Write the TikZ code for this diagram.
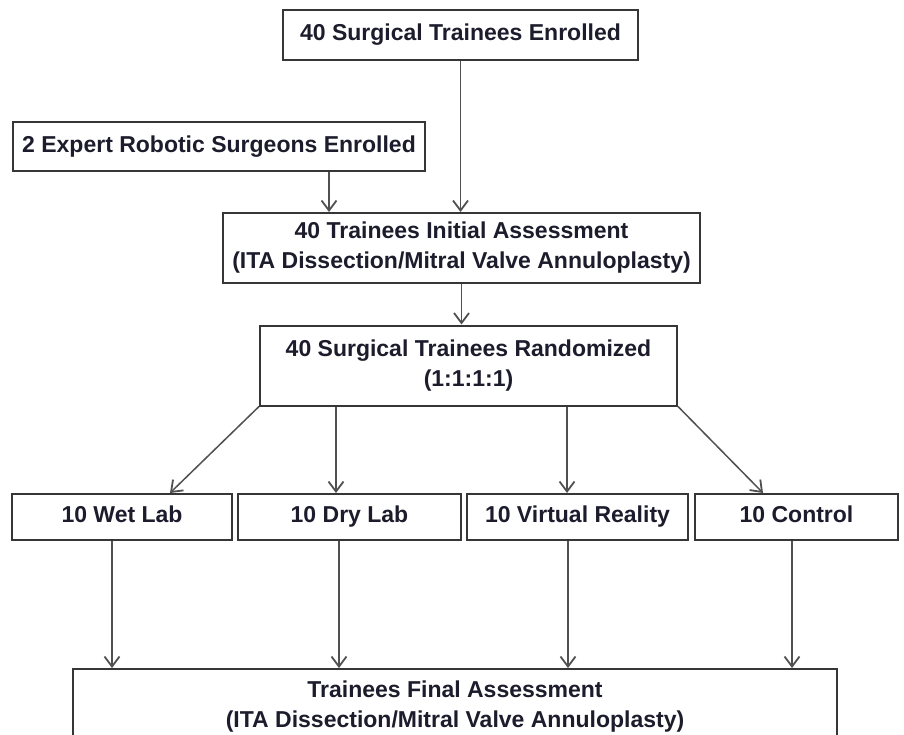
\documentclass[tikz,border=0pt]{standalone}
\usepackage{fontspec}
\setmainfont{Liberation Sans}
\usetikzlibrary{arrows.meta,calc}
\definecolor{txt}{HTML}{1C1C2C}
\definecolor{boxline}{HTML}{363636}
\definecolor{conn}{HTML}{505050}
\begin{document}
\begin{tikzpicture}[x=1pt,y=-1pt,
  box/.style={draw=boxline,line width=2pt,fill=white,inner sep=0pt,align=center,
    text=txt,font=\fontsize{23}{30}\selectfont\bfseries},
  rowbox/.style={box,minimum height=46pt,text height=16.5pt,text depth=5pt},
  conn/.style={draw=conn,line width=1.5pt,-{Straight Barb[length=10pt,width=15pt,line width=1.8pt]}}]
\useasboundingbox (0,0) rectangle (904,734);
\clip (0,0) rectangle (904,734);
\fill[white] (0,0) rectangle (904,734);
\node[box,minimum width=355pt,minimum height=50pt] (top) at (460.5,35) {40 Surgical Trainees Enrolled};
\node[box,minimum width=412pt,minimum height=49pt] (expert) at (219,146.5) {2 Expert Robotic Surgeons Enrolled};
\node[box,minimum width=477pt,minimum height=70pt] (init) at (461.5,248) {40 Trainees Initial Assessment\\(ITA Dissection/Mitral Valve Annuloplasty)};
\node[box,minimum width=417pt,minimum height=80pt] (rand) at (468.5,365.5) {40 Surgical Trainees Randomized\\(1:1:1:1)};
\node[rowbox,minimum width=220pt] (wet) at (122,517) {10 Wet Lab};
\node[rowbox,minimum width=223pt] (dry) at (349.5,517) {10 Dry Lab};
\node[rowbox,minimum width=221pt] (vr) at (577.5,517) {10 Virtual Reality};
\node[rowbox,minimum width=203pt] (ctrl) at (796.5,517) {10 Control};
\node[box,minimum width=764pt,inner ysep=11.5pt,anchor=north] (final) at (455,668) {Trainees Final Assessment\\(ITA Dissection/Mitral Valve Annuloplasty)};
% connector start points
\coordinate (e1) at ($(expert.south)+(110,0)$);
\coordinate (r2) at ($(rand.south west)+(77,0)$);
\coordinate (r3) at ($(rand.south west)+(308,0)$);
\coordinate (w1) at ($(wet.north)+(48,0)$);
\coordinate (c1) at ($(ctrl.north)+(-33.5,0)$);
\coordinate (f1) at ($(wet.south)+(-10,0)$);
\coordinate (f2) at ($(dry.south)+(-10.5,0)$);
\coordinate (f3) at ($(vr.south)+(-9.5,0)$);
\coordinate (f4) at ($(ctrl.south)+(-4.5,0)$);
% connectors
\draw[conn] (top.south) -- (top.south |- init.north);
\draw[conn] (e1) -- (e1 |- init.north);
\draw[conn] (init.south) -- (init.south |- rand.north);
\draw[conn] (rand.south west) -- (w1);
\draw[conn] (r2) -- (r2 |- dry.north);
\draw[conn] (r3) -- (r3 |- vr.north);
\draw[conn] (rand.south east) -- (c1);
\draw[conn] (f1) -- (f1 |- final.north);
\draw[conn] (f2) -- (f2 |- final.north);
\draw[conn] (f3) -- (f3 |- final.north);
\draw[conn] (f4) -- (f4 |- final.north);
\end{tikzpicture}
\end{document}
